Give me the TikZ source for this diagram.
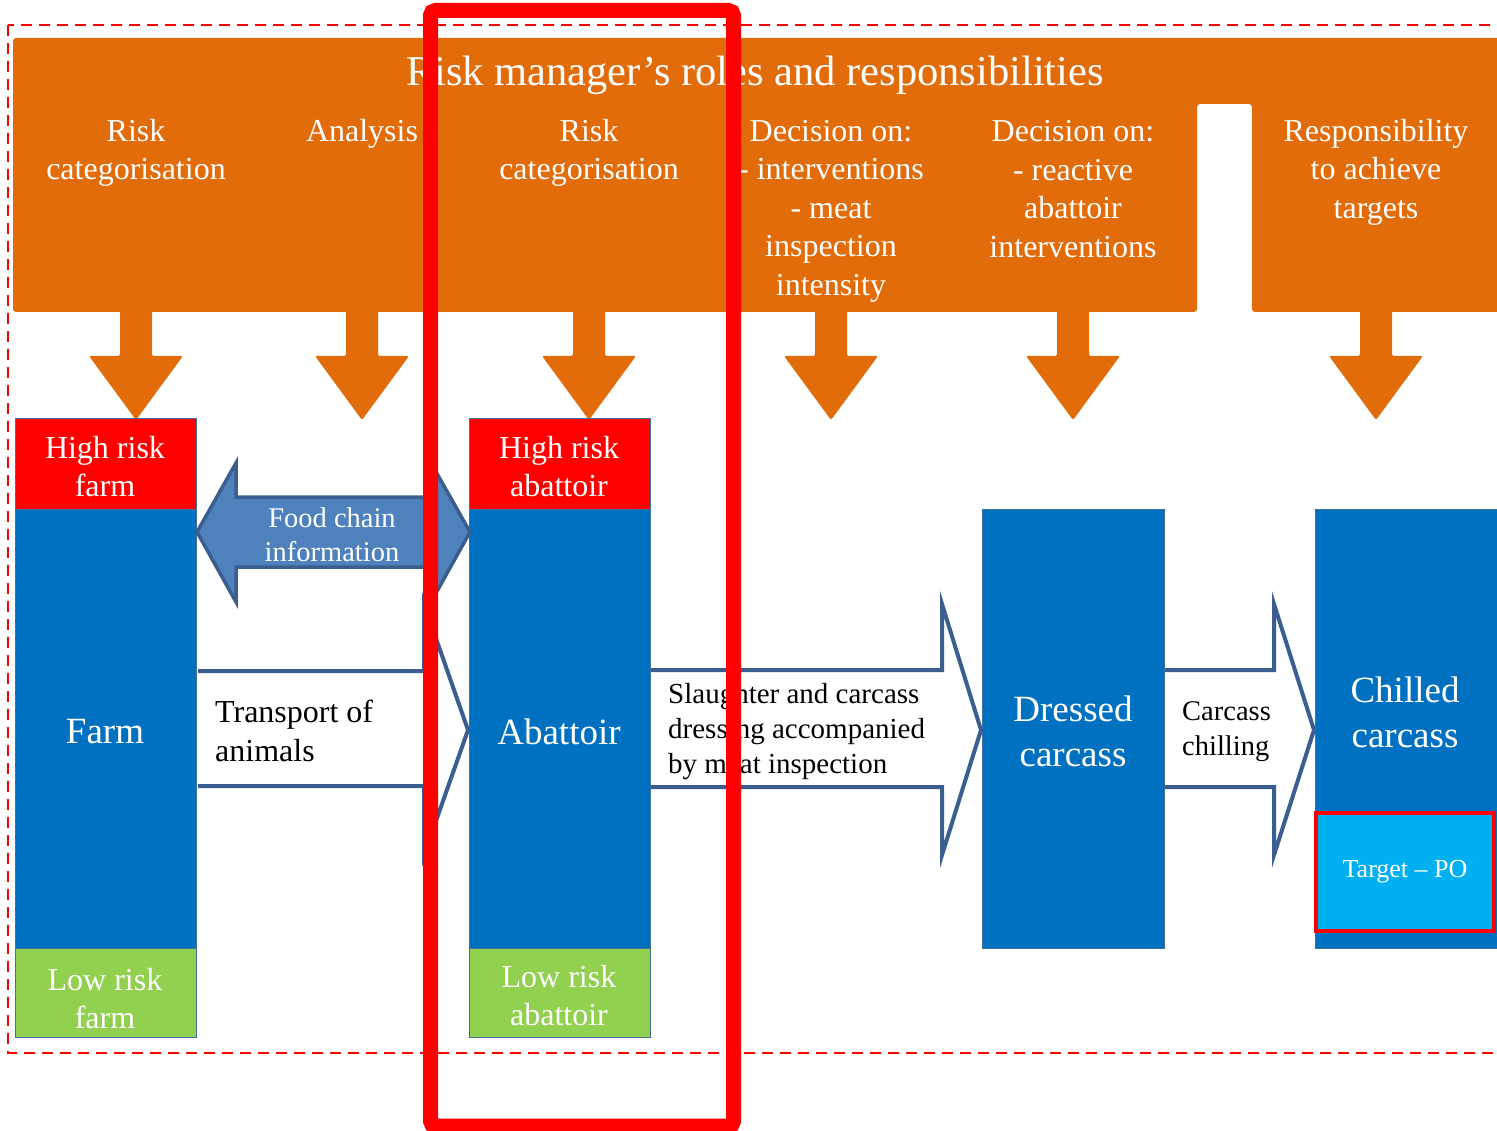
\documentclass[tikz,border=0pt]{standalone}
\usepackage{fontspec}
\setmainfont{Liberation Serif}
\definecolor{orangeC}{HTML}{E36C0A}
\definecolor{boxblue}{HTML}{0070C0}
\definecolor{boxred}{HTML}{FF0000}
\definecolor{boxgreen}{HTML}{92D050}
\definecolor{lightblue}{HTML}{00B0F0}
\definecolor{arrfill}{HTML}{4F81BD}
\definecolor{arrline}{HTML}{3A5F8E}
\definecolor{edgeC}{HTML}{41719C}
\newcommand{\fsz}[2]{\fontsize{#1}{#2}\selectfont}
\begin{document}
\begin{tikzpicture}[x=1pt,y=-1pt,
  part/.style={draw=edgeC, line width=1, inner sep=0, outer sep=0, text=white, align=center, minimum width=181},
  bantext/.style={text=white, inner sep=0, align=center, font=\fsz{32}{38.5}},
  boxtext/.style={text=white, inner sep=0, align=center, font=\fsz{32}{38}},
  bigtext/.style={text=white, inner sep=0, align=center, font=\fsz{37}{45}},
  flowtext/.style={text=black, inner sep=0, align=left, anchor=west},
  blockarrow/.style={draw=arrline, line width=4, fill=white, line join=miter},
  downarrow/.style={fill=orangeC, rounded corners=2}
]
\useasboundingbox (0,0) rectangle (1497,1131);

% dashed frame
\draw[boxred, line width=2.5, dash pattern=on 11 off 7] (8,25) rectangle (1530,1053);

% orange banner with notch
\fill[orangeC, rounded corners=3] (13,38) -- (1520,38) -- (1520,312) -- (1252,312) -- (1252,104)
   -- (1197,104) -- (1197,312) -- (13,312) -- cycle;
\node[text=white, inner sep=0, font=\fsz{42.5}{50}] (title) at (755,75) {Risk manager’s roles and responsibilities};
\node[bantext] (r1) at (136,153) {Risk\\categorisation};
\node[bantext] (r2) at (362,134) {Analysis};
\node[bantext] (r3) at (589,153) {Risk\\categorisation};
\node[bantext] (r4) at (831,211) {Decision on:\\- interventions\\- meat\\inspection\\intensity};
\node[bantext] (r5) at (1073,189) {Decision on:\\- reactive\\abattoir\\interventions};
\node[bantext] (r6) at (1376,172) {Responsibility\\to achieve\\targets};

% down arrows
\foreach \cx in {136,362,589,831,1073,1376}{
  \fill[downarrow] ({\cx-16},300) -- ({\cx+16},300) -- ({\cx+16},356) -- ({\cx+47},356)
     -- (\cx,420) -- ({\cx-47},356) -- ({\cx-16},356) -- cycle;
}

% farm column
\node[part, fill=boxred, minimum height=90] (hfarm) at (105.5,464) {};
\node[part, fill=boxblue, minimum height=439] (farm) at (105.5,728.5) {};
\node[part, fill=boxgreen, minimum height=89] (lfarm) at (105.5,992.5) {};
\node[boxtext] (thfarm) at (105,467) {High risk\\farm};
\node[bigtext] (tfarm) at (105,732) {Farm};
\node[boxtext] (tlfarm) at (105,999) {Low risk\\farm};

% abattoir column
\node[part, fill=boxred, minimum height=90] (habt) at (559.5,464) {};
\node[part, fill=boxblue, minimum height=439] (abt) at (559.5,728.5) {};
\node[part, fill=boxgreen, minimum height=89] (labt) at (559.5,992.5) {};
\node[boxtext] (thabt) at (559,467) {High risk\\abattoir};
\node[bigtext] (tabt) at (559,732) {Abattoir};
\node[boxtext] (tlabt) at (559,996) {Low risk\\abattoir};

% dressed and chilled
\node[part, fill=boxblue, minimum width=182, minimum height=439] (dressed) at (1073,728.5) {};
\node[bigtext] (tdressed) at (1073,731) {Dressed\\carcass};
\node[part, fill=boxblue, minimum width=186, minimum height=439] (chilled) at (1408,728.5) {};
\node[bigtext] (tchilled) at (1405,712) {Chilled\\carcass};
\node[draw=boxred, line width=4, fill=lightblue, minimum width=178, minimum height=118, inner sep=0,
      text=white, font=\fsz{26}{31}] (target) at (1405,872) {Target – PO};

% food chain information double arrow
\filldraw[fill=arrfill, draw=arrline, line width=3.5, line join=miter]
  (197,532) -- (236,463) -- (236,497) -- (431,497) -- (431,463) -- (470,532)
  -- (431,602) -- (431,567) -- (236,567) -- (236,602) -- cycle;
\node[text=white, inner sep=0, align=center, font=\fsz{28.5}{34}] (food) at (332,535) {Food chain\\information};

% flow arrows
\draw[blockarrow] (198,671) -- (424,671) -- (424,604) -- (468,730) -- (424,855) -- (424,786) -- (198,786);
\node[flowtext, font=\fsz{32}{39}] (transport) at (215,731) {Transport of\\animals};
\draw[blockarrow] (651,670) -- (942,670) -- (942,604) -- (981,730) -- (942,855) -- (942,787) -- (651,787);
\node[flowtext, font=\fsz{29}{35}] (slaughter) at (668,732) {Slaughter and carcass\\dressing accompanied\\by meat inspection};
\draw[blockarrow] (1165,670) -- (1274,670) -- (1274,604) -- (1314,730) -- (1274,855) -- (1274,787) -- (1165,787);
\node[flowtext, font=\fsz{28.5}{35}] (chilling) at (1182,732) {Carcass\\chilling};

% highlight frame
\draw[boxred, line width=15, rounded corners=5] (430.5,10.5) rectangle (733.5,1126);
\end{tikzpicture}
\end{document}
